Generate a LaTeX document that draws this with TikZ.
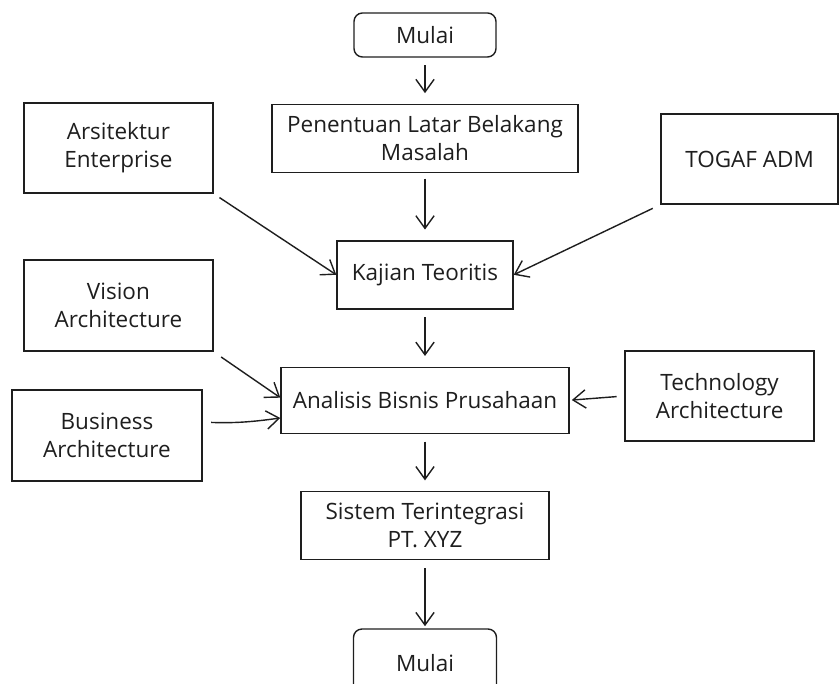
\documentclass[tikz,border=0pt]{standalone}
\usepackage{fontspec}
\setmainfont{Open Sans}
\usepackage{tikz}
\usetikzlibrary{positioning,arrows.meta}
\definecolor{sketchink}{HTML}{1E1E1E}

\begin{document}
\begin{tikzpicture}[
    >=Stealth,
    procbox/.style={draw=sketchink, line width=1pt, align=center, inner sep=2pt,
                 font=\fontsize{16}{20}\selectfont, text=sketchink},
    termbox/.style={procbox, rounded corners=6pt},
    arrow/.style={-{Straight Barb[length=9pt,width=13pt]}, line width=1pt, color=sketchink,
                 shorten <=5.5pt, shorten >=7.5pt},
]
\useasboundingbox (0,0) rectangle (21,-17.1);
\clip (0,0) rectangle (21,-17.1);

% main column
\node[termbox, minimum width=3.55cm, minimum height=1.1cm] (mulai) at (10.625,-0.875) {Mulai};
\node[procbox, minimum width=7.65cm, minimum height=1.7cm, below=1.15cm of mulai] (latar) {Penentuan Latar Belakang\\Masalah};
\node[procbox, minimum width=4.4cm, minimum height=1.7cm, below=1.675cm of latar] (kajian) {Kajian Teoritis};
\node[procbox, minimum width=7.2cm, minimum height=1.65cm, below=1.425cm of kajian] (analisis) {Analisis Bisnis Prusahaan};
\node[procbox, minimum width=6.2cm, minimum height=1.7cm, below=1.425cm of analisis] (sistem) {Sistem Terintegrasi\\PT. XYZ};
\node[termbox, minimum width=3.575cm, minimum height=1.7cm, below=1.7cm of sistem] (selesai) {Mulai};

% side boxes
\node[procbox, minimum width=4.725cm, minimum height=2.25cm] (arsitektur) at (2.96,-3.7) {Arsitektur\\Enterprise};
\node[procbox, minimum width=4.425cm, minimum height=2.25cm] (togaf) at (18.74,-3.975) {TOGAF ADM};
\node[procbox, minimum width=4.725cm, minimum height=2.275cm] (vision) at (2.96,-7.64) {Vision\\Architecture};
\node[procbox, minimum width=4.725cm, minimum height=2.25cm] (technology) at (17.99,-9.9) {Technology\\Architecture};
\node[procbox, minimum width=4.75cm, minimum height=2.275cm] (business) at (2.675,-10.89) {Business\\Architecture};

\draw[arrow] (mulai) -- (latar);
\draw[arrow, shorten <=4pt] (latar) -- (kajian);
\draw[arrow] (kajian) -- (analisis);
\draw[arrow] (analisis) -- (sistem);
\draw[arrow, shorten >=1.5pt] (sistem) -- (selesai);

\draw[arrow, shorten <=5pt, shorten >=0pt] (arsitektur.south east) -- (kajian.west);
\draw[arrow, shorten <=6pt, shorten >=0pt] (togaf.south west) -- (kajian.east);
\draw[arrow, shorten <=6.5pt, shorten >=0pt] (vision.south east) -- (analisis.179);
\draw[arrow, shorten <=6pt, shorten >=0pt] (business.8) to[bend right=5] (analisis.187);
\draw[arrow, shorten >=1.5pt] (technology.west) -- (analisis.east);
\end{tikzpicture}
\end{document}
